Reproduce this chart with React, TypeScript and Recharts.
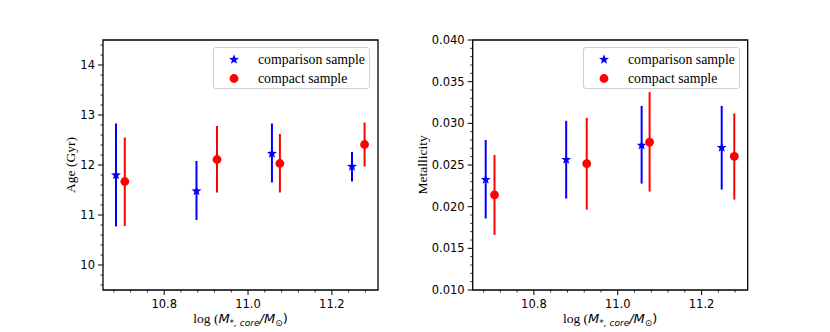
import { ScatterChart, Scatter, XAxis, YAxis, ErrorBar, ReferenceArea, Legend } from "recharts";

// log stellar core mass of each bin (the two samples are slightly offset)
const massComparison = [10.685, 10.877, 11.057, 11.248];
const massCompact = [10.706, 10.926, 11.076, 11.278];

// age in Gyr: median and lower / upper ends of the error bar
const ageComparison = [11.8, 11.48, 12.23, 11.97];
const ageComparisonLow = [10.77, 10.9, 11.65, 11.67];
const ageComparisonHigh = [12.83, 12.08, 12.83, 12.26];
const ageCompact = [11.67, 12.11, 12.03, 12.41];
const ageCompactLow = [10.78, 11.45, 11.45, 11.97];
const ageCompactHigh = [12.55, 12.78, 12.62, 12.85];

// metallicity
const metComparison = [0.02324, 0.02564, 0.02735, 0.02708];
const metComparisonLow = [0.01858, 0.02097, 0.02277, 0.02205];
const metComparisonHigh = [0.028, 0.0303, 0.0321, 0.0321];
const metCompact = [0.02141, 0.02516, 0.02775, 0.02604];
const metCompactLow = [0.01662, 0.01965, 0.02181, 0.02085];
const metCompactHigh = [0.0262, 0.03066, 0.03374, 0.03118];

const seriesNames = ["comparison sample", "compact sample"];

const xMajor = [10.8, 11.0, 11.2];
const ageMajor = [10, 11, 12, 13, 14];
const metMajor = [0.01, 0.015, 0.02, 0.025, 0.03, 0.035, 0.04];

const X_DOMAIN: [number, number] = [10.654, 11.31];
const AGE_DOMAIN: [number, number] = [9.5, 14.5];
const MET_DOMAIN: [number, number] = [0.01, 0.04];

const BLUE = "#0000ff";
const RED = "#ff0000";
const SANS = "'DejaVu Sans', sans-serif";
const SERIF = "'Liberation Serif', 'Times New Roman', serif";

// minor tick positions, matplotlib style (5 per major step)
function minorTicks(from: number, to: number, step: number) {
  const out: number[] = [];
  const n = Math.round((to - from) / step);
  for (let i = 0; i <= n; i++) out.push(+(from + i * step).toFixed(6));
  return out;
}

const xTicks = minorTicks(10.68, 11.28, 0.04);
const ageTicks = minorTicks(9.6, 14.4, 0.2);
const metTicks = minorTicks(0.01, 0.04, 0.001);

function build(xs: number[], ys: number[], lo: number[], hi: number[]) {
  return xs.map((x, i) => ({ x, y: ys[i], err: [ys[i] - lo[i], hi[i] - ys[i]] }));
}

function AxisTick(props: any) {
  const { x, y, payload, side, majors, fmt } = props;
  const v = payload.value;
  const major = majors.some((m: number) => Math.abs(m - v) < 1e-7);
  const len = major ? 5 : 2.5;
  if (side === "bottom") {
    return (
      <g>
        <line x1={x} y1={y} x2={x} y2={y + len} stroke="#000" strokeWidth={major ? 1 : 0.8} />
        {major && (
          <text x={x} y={y + 18} textAnchor="middle" fontFamily={SANS} fontSize={11.5} fill="#000">
            {fmt(v)}
          </text>
        )}
      </g>
    );
  }
  return (
    <g>
      <line x1={x} y1={y} x2={x - len} y2={y} stroke="#000" strokeWidth={major ? 1 : 0.8} />
      {major && (
        <text x={x - 8} y={y} dy="0.36em" textAnchor="end" fontFamily={SANS} fontSize={11.5} fill="#000">
          {fmt(v)}
        </text>
      )}
    </g>
  );
}

function Star(props: any) {
  const { cx, cy, fill } = props;
  const R = 5.2;
  const r = 2.2;
  const pts: string[] = [];
  for (let i = 0; i < 10; i++) {
    const a = -Math.PI / 2 + (i * Math.PI) / 5;
    const rad = i % 2 === 0 ? R : r;
    pts.push(`${cx + rad * Math.cos(a)},${cy + rad * Math.sin(a)}`);
  }
  return <polygon points={pts.join(" ")} fill={fill} />;
}

function Dot(props: any) {
  const { cx, cy, fill } = props;
  return <circle cx={cx} cy={cy} r={4.4} fill={fill} />;
}

function XLabel(props: any) {
  const vb = props.viewBox;
  const cx = vb.x + vb.width / 2;
  return (
    <text x={cx} y={vb.y + 33} textAnchor="middle" fontSize={13} fill="#000">
      <tspan fontFamily={SERIF} fontSize={13.5}>log (</tspan>
      <tspan fontFamily={SANS} fontStyle="italic">M</tspan>
      <tspan fontFamily={SANS} fontStyle="italic" fontSize={9} dy={3}>*, core</tspan>
      <tspan fontFamily={SANS} fontStyle="italic" dy={-3}>/M</tspan>
      <tspan fontFamily={SANS} fontSize={9} dy={3}>⊙</tspan>
      <tspan fontFamily={SANS} dy={-3}>)</tspan>
    </text>
  );
}

function YLabel(props: any) {
  const { viewBox, text, gap } = props;
  const x = viewBox.x + viewBox.width - gap;
  const y = viewBox.y + viewBox.height / 2;
  return (
    <text
      x={x}
      y={y}
      transform={`rotate(-90 ${x} ${y})`}
      textAnchor="middle"
      dy="0.35em"
      fontFamily={SERIF}
      fontSize={13.5}
      fill="#000"
    >
      {text}
    </text>
  );
}

function LegendBox() {
  return (
    <div
      style={{
        width: 155,
        height: 40,
        border: "1px solid #d0d0d0",
        borderRadius: 3,
        background: "rgba(255,255,255,0.8)",
        fontFamily: SERIF,
        fontSize: 13.8,
        color: "#000",
        position: "relative",
      }}
    >
      {seriesNames.map((name, i) => (
        <div key={name} style={{ position: "absolute", left: 0, top: 2 + i * 19, height: 19, display: "flex", alignItems: "center" }}>
          <svg width={40} height={19} style={{ display: "block" }}>
            {i === 0 ? <Star cx={20} cy={9.5} fill={BLUE} /> : <Dot cx={20} cy={9.5} fill={RED} />}
          </svg>
          <span style={{ marginLeft: 4, whiteSpace: "nowrap" }}>{name}</span>
        </div>
      ))}
    </div>
  );
}

function Panel(props: {
  left: number;
  marginLeft: number;
  marginRight: number;
  yDomain: [number, number];
  yTicks: number[];
  yMajor: number[];
  yFmt: (v: number) => string;
  yLabel: string;
  yLabelGap: number;
  comparison: { x: number; y: number; err: number[] }[];
  compact: { x: number; y: number; err: number[] }[];
  legendLeft: number;
}) {
  const yAxisWidth = 50;
  return (
    <div style={{ position: "absolute", left: props.left, top: 0 }}>
      <ScatterChart
        width={415}
        height={332}
        style={{ overflow: "visible" }}
        margin={{ top: 40, right: props.marginRight, bottom: 12, left: props.marginLeft - yAxisWidth }}
      >
        <XAxis
          type="number"
          dataKey="x"
          domain={X_DOMAIN}
          allowDataOverflow
          ticks={xTicks}
          interval={0}
          height={30}
          axisLine={false}
          tickLine={false}
          tickSize={0}
          tickMargin={0}
          tick={<AxisTick side="bottom" majors={xMajor} fmt={(v: number) => v.toFixed(1)} />}
          label={<XLabel />}
        />
        <YAxis
          type="number"
          dataKey="y"
          domain={props.yDomain}
          allowDataOverflow
          ticks={props.yTicks}
          interval={0}
          width={yAxisWidth}
          axisLine={false}
          tickLine={false}
          tickSize={0}
          tickMargin={0}
          tick={<AxisTick side="left" majors={props.yMajor} fmt={props.yFmt} />}
          label={<YLabel text={props.yLabel} gap={props.yLabelGap} />}
        />
        <ReferenceArea
          x1={X_DOMAIN[0]}
          x2={X_DOMAIN[1]}
          y1={props.yDomain[0]}
          y2={props.yDomain[1]}
          fill="none"
          stroke="#000"
          strokeWidth={1.3}
          ifOverflow="visible"
        />
        <Scatter name={seriesNames[0]} data={props.comparison} fill={BLUE} shape={Star} isAnimationActive={false}>
          <ErrorBar dataKey="err" direction="y" width={0} stroke={BLUE} strokeWidth={2} isAnimationActive={false} />
        </Scatter>
        <Scatter name={seriesNames[1]} data={props.compact} fill={RED} shape={Dot} isAnimationActive={false}>
          <ErrorBar dataKey="err" direction="y" width={0} stroke={RED} strokeWidth={2} isAnimationActive={false} />
        </Scatter>
        <Legend
          layout="vertical"
          align="center"
          verticalAlign="middle"
          content={() => <LegendBox />}
          wrapperStyle={{ position: "absolute", left: props.legendLeft, top: 47, width: 157 }}
        />
      </ScatterChart>
    </div>
  );
}

export default function App() {
  return (
    <div style={{ position: "absolute", left: 0, top: 0, width: 830, height: 332, background: "#fff" }}>
      <Panel
        left={0}
        marginLeft={103}
        marginRight={37}
        yDomain={AGE_DOMAIN}
        yTicks={ageTicks}
        yMajor={ageMajor}
        yFmt={(v) => String(v)}
        yLabel="Age (Gyr)"
        yLabelGap={33}
        comparison={build(massComparison, ageComparison, ageComparisonLow, ageComparisonHigh)}
        compact={build(massCompact, ageCompact, ageCompactLow, ageCompactHigh)}
        legendLeft={213}
      />
      <Panel
        left={415}
        marginLeft={57.7}
        marginRight={82.3}
        yDomain={MET_DOMAIN}
        yTicks={metTicks}
        yMajor={metMajor}
        yFmt={(v) => v.toFixed(3)}
        yLabel="Metallicity"
        yLabelGap={50}
        comparison={build(massComparison, metComparison, metComparisonLow, metComparisonHigh)}
        compact={build(massCompact, metCompact, metCompactLow, metCompactHigh)}
        legendLeft={168}
      />
    </div>
  );
}
